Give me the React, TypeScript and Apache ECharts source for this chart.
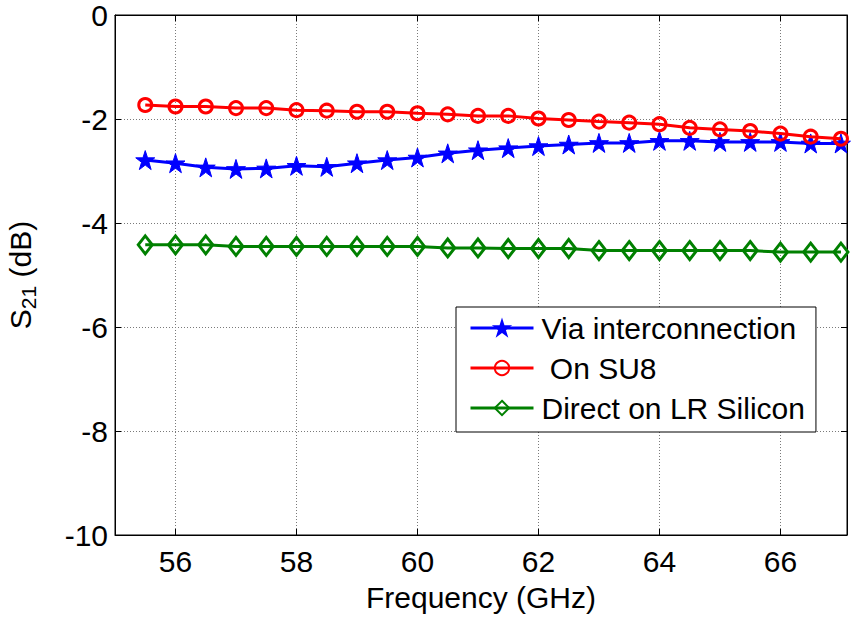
import React, { useEffect, useRef } from "react";
import * as echarts from "echarts";

const frequencies = [55.5, 56, 56.5, 57, 57.5, 58, 58.5, 59, 59.5, 60, 60.5, 61, 61.5, 62, 62.5, 63, 63.5, 64, 64.5, 65, 65.5, 66, 66.5, 67];
const viaInterconnection = [-2.79, -2.85, -2.93, -2.96, -2.95, -2.9, -2.92, -2.85, -2.79, -2.74, -2.66, -2.6, -2.56, -2.52, -2.49, -2.46, -2.46, -2.42, -2.42, -2.44, -2.44, -2.44, -2.47, -2.47];
const onSU8 = [-1.73, -1.76, -1.76, -1.79, -1.79, -1.83, -1.84, -1.86, -1.86, -1.89, -1.91, -1.94, -1.94, -1.99, -2.02, -2.05, -2.07, -2.1, -2.17, -2.2, -2.23, -2.28, -2.34, -2.38];
const directOnLRSilicon = [-4.42, -4.42, -4.42, -4.45, -4.45, -4.45, -4.45, -4.45, -4.45, -4.45, -4.48, -4.48, -4.49, -4.49, -4.49, -4.53, -4.53, -4.53, -4.53, -4.53, -4.53, -4.56, -4.56, -4.56];
const seriesNames = ["Via interconnection", " On SU8", "Direct on LR Silicon"];
const xLabel = "Frequency (GHz)";

const FONT = "'Liberation Sans', Arial, Helvetica, sans-serif";
const FS = 30;
const STAR = "path://M50,0 L61.8,35.1 L98.8,35.1 L68.9,56.8 L80.3,91.9 L50,70.2 L19.7,91.9 L31.1,56.8 L1.2,35.1 L38.2,35.1 Z";

const pairs = (ys: number[]) => frequencies.map((f, i) => [f, ys[i]]);

export default function App() {
  const ref = useRef<HTMLDivElement>(null);
  useEffect(() => {
    if (!ref.current) return;
    const chart = echarts.init(ref.current, null, { renderer: "svg" });
    const xCommon = {
      type: "value" as const,
      min: 55,
      max: 67.1,
      minInterval: 2,
      maxInterval: 2,
      splitNumber: 6,
      axisTick: { show: true, inside: true, length: 6, lineStyle: { color: "#000" } },
      axisLine: { show: true, onZero: false, lineStyle: { color: "#000", width: 1 } },
    };
    const yCommon = {
      type: "value" as const,
      min: -10,
      max: 0,
      interval: 2,
      axisTick: { show: true, inside: true, length: 6, lineStyle: { color: "#000" } },
      axisLine: { show: true, onZero: false, lineStyle: { color: "#000", width: 1 } },
    };
    chart.setOption({
      animation: false,
      backgroundColor: "#fff",
      textStyle: { fontFamily: FONT, color: "#000" },
      grid: {
        left: 115,
        right: 4,
        top: 15,
        bottom: 82,
        show: true,
        borderColor: "#000",
        borderWidth: 1,
        containLabel: false,
        outerBoundsMode: "none",
      },
      xAxis: [
        {
          ...xCommon,
          position: "bottom",
          name: xLabel,
          nameLocation: "middle",
          nameGap: 47,
          nameTextStyle: { fontSize: FS, fontFamily: FONT, color: "#000" },
          axisLabel: { show: true, fontSize: FS, fontFamily: FONT, color: "#000", margin: 11, showMinLabel: false, showMaxLabel: false },
          splitLine: { show: true, lineStyle: { color: "#7a7a7a", type: [1, 2], width: 1 } },
        },
        {
          ...xCommon,
          position: "top",
          axisLabel: { show: false },
          splitLine: { show: false },
        },
      ],
      yAxis: [
        {
          ...yCommon,
          position: "left",
          name: "{a|S}{b|21}{a| (dB)}",
          nameLocation: "middle",
          nameRotate: 90,
          nameGap: 76,
          nameTextStyle: {
            fontFamily: FONT,
            color: "#000",
            rich: {
              a: { fontSize: FS, fontFamily: FONT, color: "#000", verticalAlign: "top", lineHeight: 34 },
              b: { fontSize: 21, fontFamily: FONT, color: "#000", verticalAlign: "bottom", lineHeight: 34, padding: [16, 0, 0, 0] },
            },
          },
          axisLabel: { show: true, fontSize: FS, fontFamily: FONT, color: "#000", margin: 7 },
          splitLine: { show: true, lineStyle: { color: "#7a7a7a", type: [1, 2], width: 1 } },
        },
        {
          ...yCommon,
          position: "right",
          axisLabel: { show: false },
          splitLine: { show: false },
        },
      ],
      legend: {
        orient: "vertical",
        left: 456,
        top: 307,
        backgroundColor: "#fff",
        borderColor: "#000",
        borderWidth: 1,
        borderRadius: 0,
        padding: [6, 11, 9, 13],
        itemGap: 10,
        itemWidth: 63,
        itemHeight: 18,
        lineStyle: { width: 3 },
        textStyle: { fontSize: FS, fontFamily: FONT, color: "#000", lineHeight: 30, padding: [0, 0, 0, 3] },
        data: seriesNames,
      },
      series: [
        {
          name: seriesNames[0],
          type: "line",
          data: pairs(viaInterconnection),
          symbol: STAR,
          symbolSize: 19,
          lineStyle: { color: "#0000ff", width: 3 },
          itemStyle: { color: "#0000ff", borderColor: "#0000ff", borderWidth: 1 },
          z: 2,
        },
        {
          name: seriesNames[1],
          type: "line",
          data: pairs(onSU8),
          symbol: "circle",
          symbolSize: 13,
          lineStyle: { color: "#ff0000", width: 3 },
          itemStyle: { color: "none", borderColor: "#ff0000", borderWidth: 3 },
          z: 3,
        },
        {
          name: seriesNames[2],
          type: "line",
          data: pairs(directOnLRSilicon),
          symbol: "diamond",
          symbolSize: [14, 18],
          lineStyle: { color: "#008000", width: 3 },
          itemStyle: { color: "none", borderColor: "#008000", borderWidth: 3 },
          z: 4,
        },
      ],
    });
    return () => chart.dispose();
  }, []);
  return <div ref={ref} style={{ position: "fixed", left: 0, top: 0, width: 851, height: 617 }} />;
}
